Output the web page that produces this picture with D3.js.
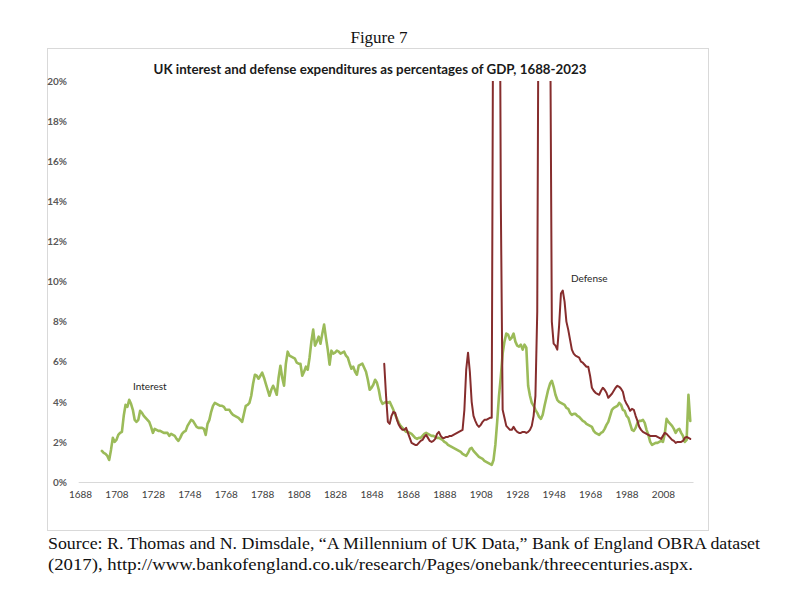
<!DOCTYPE html>
<html>
<head>
<meta charset="utf-8">
<script src="https://cdn.jsdelivr.net/npm/d3@7"></script>
<style>
  html, body { margin: 0; padding: 0; background: #fff; }
  svg { display: block; }
</style>
</head>
<body>
<svg id="chart" width="799" height="589"></svg>
<script>
// ---------------- DATA ----------------
const xTickLabels = [1688, 1708, 1728, 1748, 1768, 1788, 1808, 1828, 1848, 1868, 1888, 1908, 1928, 1948, 1968, 1988, 2008];
const yTickValues = [0, 2, 4, 6, 8, 10, 12, 14, 16, 18, 20];

const interestStartYear = 1700;
const interestValues = [
  1.55,1.45,1.4,1.3,1.1,1.6,2.2,2.0,2.1,2.35,
  2.45,2.5,3.3,3.85,3.75,4.1,3.9,3.6,3.1,3.0,
  3.1,3.55,3.45,3.3,3.2,3.1,3.0,2.75,2.45,2.65,
  2.6,2.55,2.55,2.5,2.45,2.45,2.45,2.3,2.4,2.35,
  2.3,2.15,2.05,2.2,2.4,2.5,2.55,2.8,2.95,3.1,
  3.05,2.9,2.75,2.7,2.7,2.7,2.65,2.35,2.9,3.1,
  3.5,3.8,3.95,3.9,3.85,3.8,3.8,3.75,3.6,3.6,
  3.6,3.45,3.35,3.3,3.25,3.2,3.1,3.0,3.4,3.8,
  3.85,3.95,4.3,4.9,5.35,5.3,5.15,5.3,5.45,5.2,
  4.9,4.6,4.3,4.6,4.8,4.6,4.35,5.2,5.8,5.2,
  4.8,5.9,6.5,6.3,6.25,6.2,6.15,5.95,5.9,5.9,
  5.3,5.5,5.75,5.6,6.2,7.0,7.6,6.8,7.0,7.25,
  6.9,7.4,7.85,7.2,6.6,5.85,6.55,6.4,6.45,6.55,
  6.5,6.4,6.45,6.5,6.3,6.2,5.9,5.65,5.75,5.5,
  5.35,5.8,5.85,5.9,5.7,5.5,5.1,4.6,4.7,4.85,
  5.1,4.95,4.6,4.1,3.9,3.95,4.0,3.95,4.0,3.8,
  3.6,3.35,3.15,2.95,2.8,2.7,2.6,2.5,2.5,2.45,
  2.4,2.3,2.2,2.15,2.2,2.2,2.3,2.4,2.45,2.4,
  2.35,2.3,2.3,2.25,2.2,2.2,2.15,2.1,2.0,1.95,
  1.85,1.8,1.75,1.7,1.65,1.6,1.55,1.5,1.4,1.35,
  1.3,1.45,1.65,1.7,1.55,1.45,1.35,1.25,1.2,1.15,
  1.05,1.0,0.95,0.9,0.85,1.1,1.85,3.0,4.3,5.25,
  6.4,7.0,7.4,7.35,7.1,7.2,7.4,7.0,6.8,6.75,
  6.85,6.6,6.85,6.7,4.8,4.3,3.95,3.8,3.6,3.45,
  3.25,3.15,3.35,3.8,4.2,4.6,4.9,5.05,4.75,4.35,
  4.1,4.0,3.95,3.9,3.85,3.7,3.65,3.45,3.35,3.4,
  3.4,3.3,3.25,3.15,3.05,3.0,2.9,2.85,2.8,2.75,
  2.55,2.45,2.4,2.35,2.45,2.5,2.65,2.85,3.0,3.3,
  3.6,3.7,3.75,3.8,3.95,3.85,3.6,3.55,3.3,3.2,
  2.9,2.6,2.55,2.7,2.95,3.05,3.05,3.1,2.95,2.6,
  2.35,2.0,1.85,1.9,1.95,1.95,2.0,2.05,2.0,2.4,
  3.15,3.0,2.9,2.8,2.65,2.45,2.6,2.65,2.45,2.3,
  2.0,2.1,4.35,3.05
];

const defenseStartYear = 1855;
const defenseValues = [
  5.9,4.3,3.0,2.9,3.3,
  3.5,3.45,3.1,2.85,2.7,2.6,2.6,2.7,2.45,2.2,
  1.95,1.9,1.85,1.85,1.95,2.05,2.1,2.25,2.35,2.2,
  2.05,2.0,2.05,2.15,2.4,2.5,2.3,2.2,2.2,2.25,
  2.25,2.3,2.3,2.35,2.4,2.45,2.5,2.55,2.6,3.6,
  5.6,6.45,5.5,4.0,3.3,3.05,2.85,2.75,2.85,3.0,
  3.1,3.1,3.15,3.2,3.2,30,38,40,35,14,
  3.6,3.2,2.8,2.7,2.6,2.6,2.75,2.6,2.5,2.45,
  2.45,2.5,2.5,2.45,2.5,2.6,2.8,3.3,4.3,8.5,
  32,45,48,52,50,40,25,8.0,6.9,6.8,
  6.6,7.8,9.4,9.55,9.0,8.0,7.6,7.1,6.6,6.4,
  6.3,6.25,6.2,6.0,5.95,5.85,5.75,5.75,5.3,4.7,
  4.55,4.45,4.4,4.35,4.55,4.7,4.6,4.45,4.2,4.3,
  4.4,4.55,4.7,4.8,4.75,4.65,4.5,4.1,3.9,3.75,
  3.55,3.65,3.6,3.3,3.05,2.75,2.6,2.5,2.45,2.4,
  2.35,2.3,2.3,2.3,2.3,2.25,2.2,2.15,2.3,2.45,
  2.4,2.3,2.2,2.1,2.05,1.95,2.0,2.0,2.0,2.05,
  2.2,2.25,2.2,2.15
];

const seriesLabels = ["Interest", "Defense"];
const figureLabel = "Figure 7";
const chartTitle = "UK interest and defense expenditures as percentages of GDP, 1688-2023";
const sourceLines = [
  "Source: R. Thomas and N. Dimsdale, \u201cA Millennium of UK Data,\u201d Bank of England OBRA dataset",
  "(2017), http://www.bankofengland.co.uk/research/Pages/onebank/threecenturies.aspx."
];

// ---------------- DRAW ----------------
const svg = d3.select("#chart");
const interest = interestValues.map((v, i) => ({ year: interestStartYear + i, v }));
const defense = defenseValues.map((v, i) => ({ year: defenseStartYear + i, v }));

const x = d3.scaleLinear().domain([1687, 2024.5]).range([78.2, 693]);
const y = d3.scaleLinear().domain([0, 20]).range([482, 81]);

// outer chart box
svg.append("rect")
  .attr("x", 47.5).attr("y", 48.5).attr("width", 661).attr("height", 482)
  .attr("fill", "#fff").attr("stroke", "#d9d9d9").attr("stroke-width", 1);

// Figure label
svg.append("text")
  .attr("x", 379).attr("y", 43)
  .attr("text-anchor", "middle")
  .attr("font-family", "'Liberation Serif', serif")
  .attr("font-size", 17)
  .attr("fill", "#111")
  .text(figureLabel);

// Title
svg.append("text")
  .attr("x", 370).attr("y", 74)
  .attr("text-anchor", "middle")
  .attr("font-family", "Lato, 'Open Sans', sans-serif")
  .attr("font-weight", "bold")
  .attr("font-size", 13)
  .attr("fill", "#1a1a1a")
  .attr("textLength", 433)
  .attr("lengthAdjust", "spacingAndGlyphs")
  .text(chartTitle);

// Y axis
const yAxis = d3.axisLeft(y).tickValues(yTickValues).tickSize(0).tickPadding(0)
  .tickFormat(d => d + "%");
const gy = svg.append("g").attr("transform", "translate(67,0)").call(yAxis);
gy.select(".domain").remove();
gy.selectAll("text")
  .attr("font-family", "Lato, 'Open Sans', sans-serif")
  .attr("font-size", 10)
  .attr("font-weight", "bold")
  .attr("fill", "#595959");

// X axis
const xAxis = d3.axisBottom(x).tickValues(xTickLabels).tickSize(0).tickPadding(9)
  .tickFormat(d => String(d));
const gx = svg.append("g").attr("transform", `translate(0,${y(0)})`).call(xAxis);
gx.select(".domain").attr("stroke", "#d9d9d9").attr("stroke-width", 1);
gx.selectAll("text")
  .attr("font-family", "Lato, 'Open Sans', sans-serif")
  .attr("font-size", 10)
  .attr("fill", "#404040");

// clip at plot area
svg.append("clipPath").attr("id", "plotclip")
  .append("rect").attr("x", 60).attr("y", y(20)).attr("width", 650).attr("height", y(0) - y(20) + 5);

const line = d3.line().x(d => x(d.year)).y(d => y(d.v)).curve(d3.curveLinear);

const plot = svg.append("g").attr("clip-path", "url(#plotclip)");
plot.append("path").datum(interest)
  .attr("d", line).attr("fill", "none")
  .attr("stroke", "#9bbb59").attr("stroke-width", 2.6)
  .attr("stroke-linejoin", "round").attr("stroke-linecap", "round");
plot.append("path").datum(defense)
  .attr("d", line).attr("fill", "none")
  .attr("stroke", "#862d2d").attr("stroke-width", 2)
  .attr("stroke-linejoin", "round").attr("stroke-linecap", "round");

// annotations
svg.append("text")
  .attr("x", 133).attr("y", 390)
  .attr("font-family", "Lato, 'Open Sans', sans-serif").attr("font-size", 10)
  .attr("fill", "#262626").text(seriesLabels[0]);
svg.append("text")
  .attr("x", 571).attr("y", 282)
  .attr("font-family", "Lato, 'Open Sans', sans-serif").attr("font-size", 10)
  .attr("fill", "#262626").text(seriesLabels[1]);

// source
svg.append("text")
  .attr("x", 48).attr("y", 549)
  .attr("font-family", "'Liberation Serif', serif").attr("font-size", 16)
  .attr("fill", "#111")
  .attr("textLength", 712).attr("lengthAdjust", "spacingAndGlyphs")
  .text(sourceLines[0]);
svg.append("text")
  .attr("x", 48).attr("y", 570)
  .attr("font-family", "'Liberation Serif', serif").attr("font-size", 16)
  .attr("fill", "#111")
  .attr("textLength", 645).attr("lengthAdjust", "spacingAndGlyphs")
  .text(sourceLines[1]);
</script>
</body>
</html>
